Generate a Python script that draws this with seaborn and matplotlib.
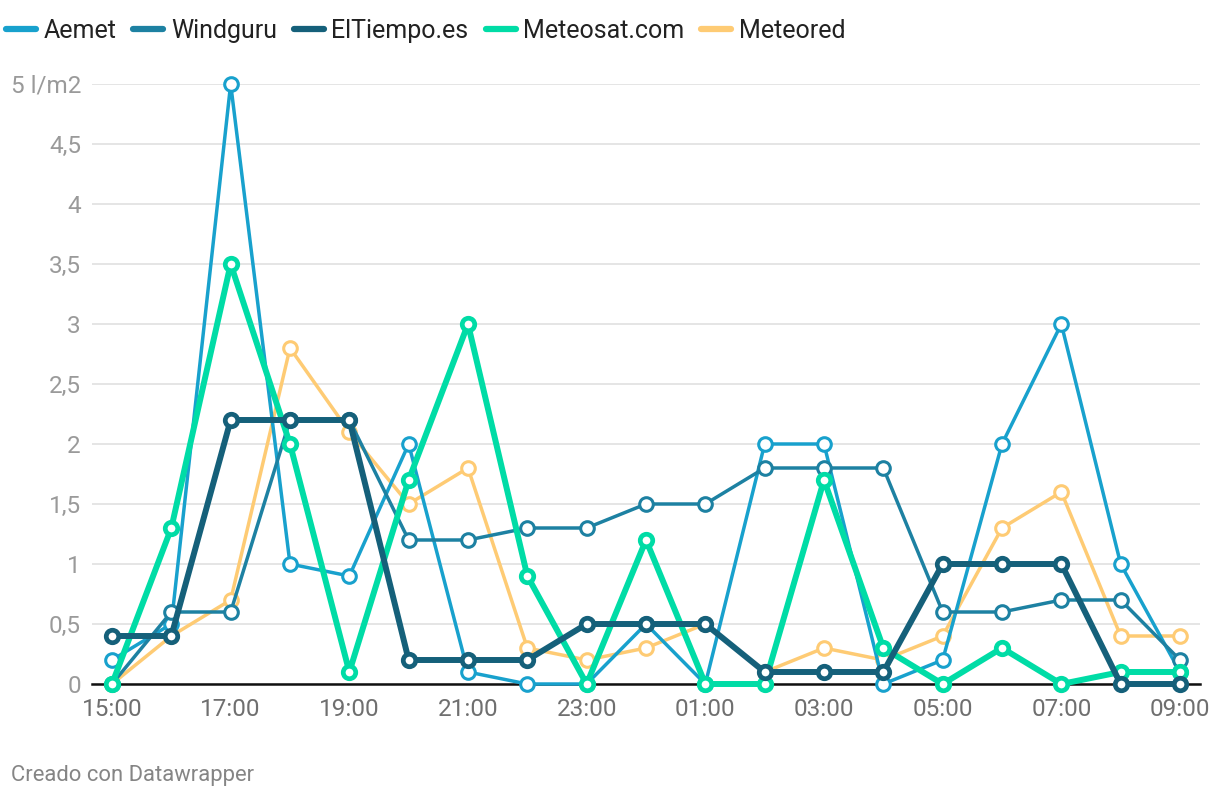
import matplotlib
matplotlib.use("Agg")
import matplotlib.pyplot as plt
import seaborn as sns
import pandas as pd
from matplotlib.lines import Line2D

hours = ["15:00", "16:00", "17:00", "18:00", "19:00", "20:00", "21:00", "22:00", "23:00",
         "00:00", "01:00", "02:00", "03:00", "04:00", "05:00", "06:00", "07:00", "08:00", "09:00"]

aemet    = [0.2, 0.5, 5.0, 1.0, 0.9, 2.0, 0.1, 0.0, 0.0, 0.5, 0.0, 2.0, 2.0, 0.0, 0.2, 2.0, 3.0, 1.0, 0.1]
windguru = [0.0, 0.6, 0.6, 2.2, 2.2, 1.2, 1.2, 1.3, 1.3, 1.5, 1.5, 1.8, 1.8, 1.8, 0.6, 0.6, 0.7, 0.7, 0.2]
eltiempo = [0.4, 0.4, 2.2, 2.2, 2.2, 0.2, 0.2, 0.2, 0.5, 0.5, 0.5, 0.1, 0.1, 0.1, 1.0, 1.0, 1.0, 0.0, 0.0]
meteosat = [0.0, 1.3, 3.5, 2.0, 0.1, 1.7, 3.0, 0.9, 0.0, 1.2, 0.0, 0.0, 1.7, 0.3, 0.0, 0.3, 0.0, 0.1, 0.1]
meteored = [0.0, 0.4, 0.7, 2.8, 2.1, 1.5, 1.8, 0.3, 0.2, 0.3, 0.5, 0.1, 0.3, 0.2, 0.4, 1.3, 1.6, 0.4, 0.4]

series_names = ["Aemet", "Windguru", "ElTiempo.es", "Meteosat.com", "Meteored"]
series_values = [aemet, windguru, eltiempo, meteosat, meteored]
colors = {"Aemet": "#18a1cd", "Windguru": "#1d81a2", "ElTiempo.es": "#15607a",
          "Meteosat.com": "#00dca6", "Meteored": "#fecb74"}
lw = {"Aemet": 2.5, "Windguru": 2.5, "ElTiempo.es": 4.3, "Meteosat.com": 4.3, "Meteored": 2.5}
mew = {"Aemet": 2.2, "Windguru": 2.2, "ElTiempo.es": 3.4, "Meteosat.com": 3.4, "Meteored": 2.2}
ms = {"Aemet": 9.8, "Windguru": 9.8, "ElTiempo.es": 9.0, "Meteosat.com": 9.0, "Meteored": 9.8}

rows = []
for name, vals in zip(series_names, series_values):
    for i, v in enumerate(vals):
        rows.append({"serie": name, "idx": i, "hora": hours[i], "valor": v})
df = pd.DataFrame(rows)

sns.set_theme(style="white")
plt.rcParams["font.family"] = ["Roboto", "DejaVu Sans"]

fig = plt.figure(figsize=(12.2, 8), dpi=100)
ax = fig.add_axes([92 / 1220, 1 - 684 / 800, (1200 - 92) / 1220, 600 / 800])

draw_order = ["Meteored", "Aemet", "Windguru", "Meteosat.com", "ElTiempo.es"]
for z, name in enumerate(draw_order):
    sub = df[df["serie"] == name]
    sns.lineplot(data=sub, x="idx", y="valor", ax=ax, color=colors[name], linewidth=lw[name],
                 marker="o", markersize=ms[name], markerfacecolor="white",
                 markeredgecolor=colors[name], markeredgewidth=mew[name],
                 legend=False, zorder=3 + z, clip_on=False)

xpad = 20 / 59.33
ax.set_xlim(-xpad, 18 + xpad)
ax.set_ylim(0, 5)
yt = [0, 0.5, 1, 1.5, 2, 2.5, 3, 3.5, 4, 4.5, 5]
ylabels = ["0", "0,5", "1", "1,5", "2", "2,5", "3", "3,5", "4", "4,5", "5 l/m2"]
ax.set_yticks(yt)
ax.set_yticklabels(ylabels)
xt = list(range(0, 19, 2))
ax.set_xticks(xt)
ax.set_xticklabels([hours[i] for i in xt])
ax.set_xlabel("")
ax.set_ylabel("")

ax.grid(axis="y", color="#e3e3e3", linewidth=1.3, zorder=0)
ax.grid(axis="x", visible=False)
for s in ["top", "right", "left"]:
    ax.spines[s].set_visible(False)
ax.spines["bottom"].set_color("#111111")
ax.spines["bottom"].set_linewidth(1.8)
ax.spines["bottom"].set_zorder(2.5)
ax.tick_params(axis="y", length=0, pad=8, labelsize=17.5, labelcolor="#9a9a9a")
ax.tick_params(axis="x", length=0, pad=10, labelsize=17.5, labelcolor="#6f6f6f")

handles = [Line2D([0], [0], color=colors[n], linewidth=4.5, solid_capstyle="round") for n in series_names]
leg = fig.legend(handles, series_names, loc="center left", bbox_to_anchor=(6 / 1220, 1 - 31 / 800),
                 ncol=5, frameon=False, fontsize=18, handlelength=1.2, handletextpad=0.3,
                 columnspacing=0.68, borderaxespad=0, borderpad=0)
for t in leg.get_texts():
    t.set_color("#222222")

fig.text(11 / 1220, 1 - 776 / 800, "Creado con Datawrapper", fontsize=15.8, color="#858585",
         ha="left", va="center")

fig.savefig("out.png", dpi=100)
